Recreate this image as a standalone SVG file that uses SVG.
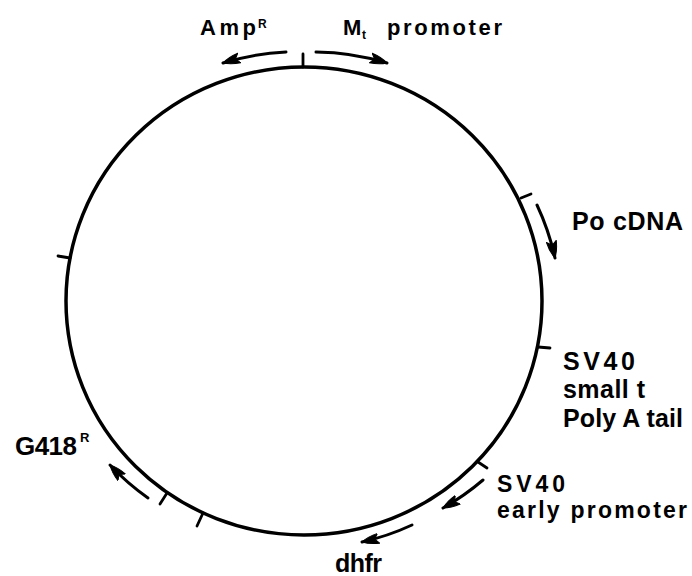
<svg xmlns="http://www.w3.org/2000/svg" width="692" height="576" viewBox="0 0 692 576">
<style>
  .lbl { font-family: "Liberation Sans", Arial, sans-serif; font-weight: bold; fill: #000; }
  .big { font-size: 25px; }
  .mid { font-size: 23px; }
  .top { font-size: 22px; }
  .arr { fill: none; stroke: #000; stroke-width: 3; stroke-linecap: round; marker-end: url(#ah); }
  .tick { fill: none; stroke: #000; stroke-width: 2.8; stroke-linecap: round; }
</style>
<defs>
  <marker id="ah" markerUnits="userSpaceOnUse" markerWidth="20" markerHeight="14" refX="17" refY="7" orient="auto">
    <path d="M0,2 Q10,3 17,7 Q10,11 0,12 L4,7 Z" fill="#000" stroke="#000" stroke-width="1" stroke-linejoin="round"/>
  </marker>
</defs>
<rect width="692" height="576" fill="#fff"/>
<g id="plasmid">
  <ellipse cx="304" cy="301" rx="238" ry="234" fill="none" stroke="#000" stroke-width="3.5"/>
</g>
<g id="connectors">
  <line class="tick" x1="303" y1="67" x2="303" y2="54"/>
  <line class="tick" x1="521" y1="198" x2="531" y2="194"/>
  <line class="tick" x1="538" y1="347" x2="550" y2="348"/>
  <line class="tick" x1="478" y1="462" x2="487" y2="468"/>
  <line class="tick" x1="203" y1="513" x2="197" y2="526"/>
  <line class="tick" x1="167" y1="493" x2="160" y2="504"/>
  <line class="tick" x1="70" y1="258" x2="58" y2="256"/>
  <path class="arr" d="M286,52 A250,250 0 0 0 223,63"/>
  <path class="arr" d="M316,52 A250,250 0 0 1 387,63"/>
  <path class="arr" d="M537,205 A253,253 0 0 1 555,258"/>
  <path class="arr" d="M483,480 A250,250 0 0 1 443,508"/>
  <path class="arr" d="M412,525 A248,248 0 0 1 362,542"/>
  <path class="arr" d="M148,498 A252,252 0 0 1 110,465"/>
</g>
<g id="ampR">
  <text class="lbl top" x="200" y="35" textLength="56" lengthAdjust="spacing">Amp</text>
  <text class="lbl" x="258" y="28" font-size="12">R</text>
</g>
<g id="mt-promoter">
  <text class="lbl top" x="343" y="35">M</text>
  <text class="lbl" x="362" y="39" font-size="12">t</text>
  <text class="lbl top" x="387" y="35" textLength="115" lengthAdjust="spacing">promoter</text>
</g>
<g id="po-cdna">
  <text class="lbl big" x="572" y="230" textLength="111" lengthAdjust="spacing">Po cDNA</text>
</g>
<g id="sv40-polyA">
  <text class="lbl big" x="563" y="370" textLength="72" lengthAdjust="spacing">SV40</text>
  <text class="lbl big" x="563" y="398" textLength="82" lengthAdjust="spacing">small t</text>
  <text class="lbl big" x="563" y="427" textLength="120" lengthAdjust="spacing">Poly A tail</text>
</g>
<g id="sv40-early">
  <text class="lbl mid" x="497" y="492" textLength="68" lengthAdjust="spacing">SV40</text>
  <text class="lbl mid" x="497" y="518" textLength="190" lengthAdjust="spacing">early promoter</text>
</g>
<g id="dhfr">
  <text class="lbl big" x="335" y="572" textLength="47" lengthAdjust="spacing">dhfr</text>
</g>
<g id="g418R">
  <text class="lbl" x="15" y="455" font-size="26" textLength="62" lengthAdjust="spacing">G418</text>
  <text class="lbl" x="80" y="442" font-size="13">R</text>
</g>
</svg>
